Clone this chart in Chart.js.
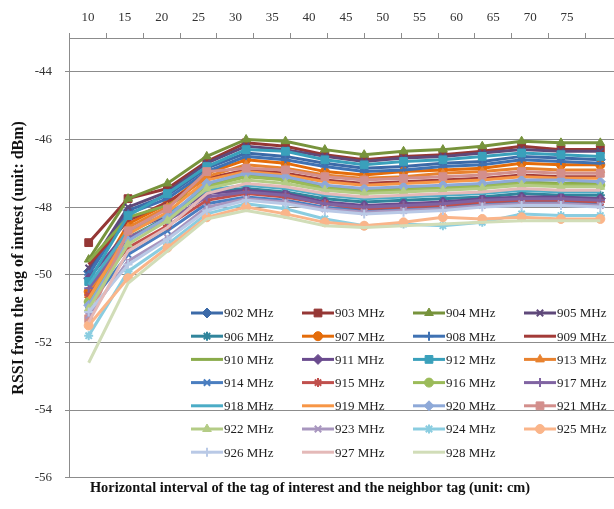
<!DOCTYPE html>
<html>
<head>
<meta charset="utf-8">
<script src="https://cdn.jsdelivr.net/npm/chart.js@4/dist/chart.umd.min.js"></script>
<style>
html,body{margin:0;padding:0;background:#fff;overflow:hidden;width:614px;height:509px}
canvas{display:block}
</style>
</head>
<body>
<canvas id="c" width="640" height="509"></canvas>
<script>
// ---- data ----
const distances = [10, 15, 20, 25, 30, 35, 40, 45, 50, 55, 60, 65, 70, 75];
const yTickValues = [-56, -54, -52, -50, -48, -46, -44];
const seriesNames = ['902 MHz','903 MHz','904 MHz','905 MHz','906 MHz','907 MHz','908 MHz','909 MHz','910 MHz',
  '911 MHz','912 MHz','913 MHz','914 MHz','915 MHz','916 MHz','917 MHz','918 MHz','919 MHz','920 MHz',
  '921 MHz','922 MHz','923 MHz','924 MHz','925 MHz','926 MHz','927 MHz','928 MHz'];

const s902 = [-49.9, -48.1, -47.65, -46.85, -46.4, -46.5, -46.7, -46.85, -46.8, -46.7, -46.65, -46.5, -46.55, -46.6];
const s903 = [-49.05, -47.75, -47.45, -46.65, -46.1, -46.2, -46.45, -46.6, -46.5, -46.45, -46.35, -46.2, -46.3, -46.3];
const s904 = [-49.55, -47.75, -47.3, -46.5, -46.0, -46.05, -46.3, -46.45, -46.35, -46.3, -46.2, -46.05, -46.1, -46.1];
const s905 = [-49.8, -48.0, -47.55, -46.7, -46.2, -46.3, -46.5, -46.65, -46.55, -46.5, -46.4, -46.3, -46.35, -46.35];
const s906 = [-50.8, -48.9, -48.3, -47.55, -47.45, -47.55, -47.75, -47.85, -47.8, -47.75, -47.7, -47.6, -47.65, -47.65];
const s907 = [-50.5, -48.5, -47.9, -47.0, -46.6, -46.7, -46.95, -47.05, -46.95, -46.9, -46.85, -46.7, -46.75, -46.75];
const s908 = [-50.0, -48.2, -47.75, -46.95, -46.5, -46.6, -46.8, -46.95, -46.9, -46.8, -46.75, -46.6, -46.65, -46.7];
const s909 = [-49.7, -48.4, -47.85, -47.15, -46.9, -47.0, -47.2, -47.3, -47.25, -47.2, -47.15, -47.05, -47.1, -47.1];
const s910 = [-49.6, -48.3, -47.95, -47.35, -47.05, -47.15, -47.4, -47.5, -47.45, -47.4, -47.35, -47.25, -47.3, -47.3];
const s911 = [-50.1, -48.7, -48.25, -47.6, -47.5, -47.6, -47.85, -47.95, -47.9, -47.85, -47.75, -47.7, -47.7, -47.75];
const s912 = [-50.2, -48.25, -47.6, -46.8, -46.3, -46.35, -46.6, -46.75, -46.65, -46.6, -46.5, -46.4, -46.45, -46.5];
const s913 = [-50.6, -48.6, -48.0, -47.1, -46.75, -46.85, -47.05, -47.15, -47.1, -47.0, -46.95, -46.85, -46.9, -46.9];
const s914 = [-50.9, -49.4, -48.7, -47.9, -47.7, -47.8, -48.0, -48.1, -48.05, -48.0, -47.9, -47.85, -47.85, -47.9];
const s915 = [-50.6, -49.2, -48.55, -47.8, -47.6, -47.7, -47.9, -48.05, -48.0, -47.95, -47.85, -47.8, -47.8, -47.85];
const s916 = [-50.8, -48.9, -48.35, -47.4, -47.1, -47.2, -47.45, -47.55, -47.5, -47.45, -47.4, -47.3, -47.35, -47.35];
const s917 = [-50.4, -48.9, -48.4, -47.7, -47.55, -47.65, -47.9, -48.0, -47.95, -47.9, -47.8, -47.75, -47.75, -47.8];
const s918 = [-50.3, -48.7, -48.2, -47.5, -47.35, -47.45, -47.65, -47.75, -47.7, -47.65, -47.6, -47.5, -47.55, -47.55];
const s919 = [-50.7, -48.8, -48.15, -47.2, -46.95, -47.05, -47.25, -47.35, -47.3, -47.25, -47.2, -47.1, -47.15, -47.15];
const s920 = [-50.9, -49.0, -48.3, -47.3, -47.0, -47.1, -47.35, -47.45, -47.4, -47.35, -47.3, -47.2, -47.2, -47.25];
const s921 = [-51.3, -48.7, -48.05, -46.95, -46.85, -46.9, -47.1, -47.2, -47.15, -47.1, -47.05, -46.95, -47.0, -47.0];
const s922 = [-51.0, -49.1, -48.4, -47.45, -47.2, -47.3, -47.5, -47.6, -47.55, -47.5, -47.45, -47.35, -47.4, -47.4];
const s923 = [-51.2, -49.6, -48.9, -48.0, -47.75, -47.85, -48.05, -48.15, -48.1, -48.05, -47.95, -47.9, -47.9, -47.95];
const s924 = [-51.8, -49.9, -49.1, -48.2, -47.9, -48.05, -48.35, -48.55, -48.5, -48.55, -48.45, -48.2, -48.25, -48.25];
const s925 = [-51.5, -50.1, -49.2, -48.3, -48.0, -48.2, -48.45, -48.55, -48.45, -48.3, -48.35, -48.3, -48.35, -48.35];
const s926 = [-51.1, -49.7, -48.95, -48.1, -47.8, -47.9, -48.1, -48.2, -48.15, -48.1, -48.0, -47.95, -47.95, -48.0];
const s927 = [-51.4, -49.3, -48.6, -47.6, -47.3, -47.4, -47.6, -47.7, -47.65, -47.6, -47.55, -47.45, -47.5, -47.5];
const s928 = [-52.6, -50.25, -49.3, -48.35, -48.1, -48.3, -48.55, -48.6, -48.55, -48.5, -48.45, -48.4, -48.4, -48.4];

const seriesValues = [s902,s903,s904,s905,s906,s907,s908,s909,s910,s911,s912,s913,s914,s915,s916,s917,s918,s919,
  s920,s921,s922,s923,s924,s925,s926,s927,s928];

// ---- styles ----
const seriesColors = ['#3C6AA8','#953735','#77933C','#5F497A','#31859C','#E46C0A','#3F72B3','#A33B38','#8AAB4A',
  '#6A4B8E','#3AA0BB','#E8822F','#4A7EC0','#C0504D','#9BBB59','#8064A2','#4BACC6','#F79646',
  '#8EA9D8','#D38F8C','#B4CC86','#A896BF','#8ACDE0','#FAB58A','#B9C9E6','#E4B9B8','#D1DDB8'];
const markerCycle = ['rectRot','rect','triangle','crossRot','star','circle','cross', null, null];
const markerRadius = {rectRot: 5, rect: 5.5, triangle: 5, crossRot: 4.5, star: 4.5, circle: 4.5, cross: 4.5};
const strokeOnly = {crossRot: true, star: true, cross: true};
const SERIF = '"Liberation Serif", "Times New Roman", serif';

const datasets = seriesNames.map((name, i) => {
  const style = markerCycle[i % 9];
  return {
    label: name,
    data: seriesValues[i],
    xAxisID: 'x',
    yAxisID: 'y',
    borderColor: seriesColors[i],
    backgroundColor: seriesColors[i],
    borderWidth: 3,
    tension: 0,
    pointStyle: style || 'circle',
    pointRadius: style ? markerRadius[style] : 0,
    pointHoverRadius: style ? markerRadius[style] : 0,
    pointBorderWidth: style && strokeOnly[style] ? 2 : 1,
    pointBackgroundColor: seriesColors[i],
    pointBorderColor: seriesColors[i],
    order: -i
  };
});

// ---- legend drawn inside the plot as a 4-column grid ----
const gridLegend = {
  id: 'gridLegend',
  afterDraw(chart) {
    const ctx = chart.ctx;
    ctx.save();
    ctx.font = '13px ' + SERIF;
    ctx.textBaseline = 'middle';
    ctx.textAlign = 'left';
    chart.data.datasets.forEach((ds, i) => {
      const col = i % 4, row = Math.floor(i / 4);
      const x = 191 + col * 111;
      const y = 313 + row * 23.2;
      ctx.strokeStyle = ds.borderColor;
      ctx.fillStyle = ds.borderColor;
      ctx.lineWidth = 3;
      ctx.beginPath();
      ctx.moveTo(x, y);
      ctx.lineTo(x + 32, y);
      ctx.stroke();
      if (ds.pointRadius > 0) {
        ctx.lineWidth = ds.pointBorderWidth;
        if (Chart.helpers && Chart.helpers.drawPoint) {
          Chart.helpers.drawPoint(ctx, {pointStyle: ds.pointStyle, radius: ds.pointRadius, borderWidth: ds.pointBorderWidth, rotation: 0}, x + 16, y);
        } else {
          ctx.beginPath(); ctx.arc(x + 16, y, ds.pointRadius, 0, Math.PI * 2); ctx.fill();
        }
      }
      ctx.fillStyle = '#1e1e1e';
      ctx.fillText(ds.label, x + 33, y + 1);
    });
    ctx.restore();
  }
};

const gridColor = '#8c8c8c';

new Chart(document.getElementById('c'), {
  type: 'line',
  data: { labels: distances, datasets },
  options: {
    responsive: false,
    animation: false,
    events: [],
    layout: { padding: { left: 0, right: 20, top: 0, bottom: 0 } },
    plugins: {
      legend: { display: false },
      tooltip: { enabled: false },
      title: {
        display: true,
        position: 'bottom',
        text: 'Horizontal interval of the tag of interest and the neighbor tag (unit: cm)',
        color: '#111',
        font: { family: SERIF, size: 14.4, weight: 'bold' },
        padding: { top: 2, bottom: 12 }
      }
    },
    scales: {
      x: {
        type: 'category',
        offset: true,
        display: false
      },
      xTop: {
        type: 'linear',
        position: 'top',
        min: 7.422,
        max: 82.19,
        afterBuildTicks: (s) => {
          const t = [];
          distances.forEach(d => { t.push({value: d - 2.5}); t.push({value: d}); });
          t.push({value: distances[distances.length - 1] + 2.5});
          s.ticks = t;
        },
        afterFit: (s) => { s.height = 38; },
        grid: {
          drawOnChartArea: false,
          drawTicks: true,
          tickLength: 5,
          color: (c) => (c.tick && c.tick.value % 5 !== 0) ? gridColor : 'rgba(0,0,0,0)'
        },
        border: { display: true, color: gridColor, width: 1 },
        ticks: {
          autoSkip: false,
          maxRotation: 0,
          minRotation: 0,
          padding: 8,
          color: '#333',
          font: { family: SERIF, size: 13 },
          callback: (v) => (v % 5 === 0 ? String(v) : '')
        }
      },
      y: {
        type: 'linear',
        position: 'left',
        min: -56,
        max: -43,
        afterBuildTicks: (s) => { s.ticks = yTickValues.map(v => ({value: v})); },
        afterFit: (s) => { s.width = 69; },
        grid: { color: gridColor, lineWidth: 1, drawTicks: true, tickLength: 4 },
        border: { display: true, color: gridColor, width: 1 },
        ticks: {
          padding: 13,
          color: '#333',
          font: { family: SERIF, size: 13 },
          callback: (v) => String(v)
        },
        title: {
          display: true,
          text: 'RSSI from the tag of intrest (unit: dBm)',
          color: '#111',
          font: { family: SERIF, size: 16, weight: 'bold' },
          padding: { top: 9, bottom: 0 }
        }
      }
    }
  },
  plugins: [gridLegend]
});
</script>
</body>
</html>
